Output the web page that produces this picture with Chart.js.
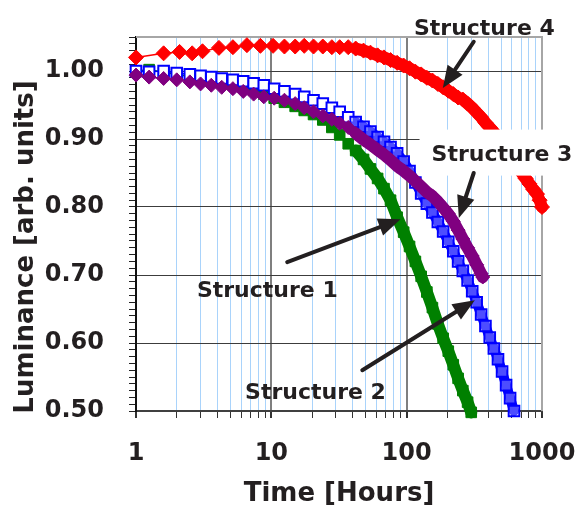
<!DOCTYPE html>
<html>
<head>
<meta charset="utf-8">
<script src="https://cdn.jsdelivr.net/npm/chart.js@4.4.1/dist/chart.umd.min.js"></script>
<style>
  html, body { margin: 0; padding: 0; background: #fff; }
</style>
</head>
<body>
<canvas id="chart" width="578" height="507"></canvas>
<script>
// Structure 1 (green filled squares)
const s1Hours = [1, 1.25, 1.6, 2, 2.5, 3, 3.6, 4.3, 5.2, 6.2, 7.4, 8.8, 10.5, 12.5, 15, 17.5, 20.5, 24, 28, 32,
  37, 42, 48, 54, 61, 68, 76, 85, 95, 105, 116, 128, 141, 155, 170, 186, 203, 221, 240, 260, 282, 300];
const s1Lum = [1.000, 1.002, 0.998, 0.995, 0.992, 0.989, 0.986, 0.983, 0.980, 0.976, 0.972, 0.966, 0.960, 0.954,
  0.948, 0.942, 0.936, 0.928, 0.917, 0.906, 0.893, 0.883, 0.870, 0.856, 0.842, 0.827, 0.810, 0.785, 0.763, 0.742,
  0.720, 0.698, 0.675, 0.652, 0.628, 0.607, 0.588, 0.568, 0.548, 0.530, 0.513, 0.498];

// Structure 2 (blue open squares)
const s2Hours = [1, 1.25, 1.6, 2, 2.5, 3, 3.6, 4.3, 5.2, 6.2, 7.4, 8.8, 10.5, 12.5, 15, 17.5, 20.5, 24, 28, 32,
  37, 42, 48, 54, 61, 68, 76, 85, 95, 105, 116, 128, 141, 155, 170, 186, 203, 221, 240, 260, 282, 305, 329, 355,
  382, 411, 441, 473, 507, 543, 581, 621];
const s2Lum = [1.000, 0.999, 1.000, 0.997, 0.995, 0.993, 0.991, 0.989, 0.987, 0.985, 0.982, 0.979, 0.974, 0.970,
  0.966, 0.962, 0.957, 0.952, 0.946, 0.940, 0.932, 0.925, 0.918, 0.911, 0.903, 0.896, 0.888, 0.879, 0.867, 0.853,
  0.836, 0.820, 0.805, 0.792, 0.778, 0.764, 0.749, 0.735, 0.720, 0.706, 0.692, 0.676, 0.660, 0.642, 0.625, 0.608,
  0.592, 0.576, 0.558, 0.538, 0.519, 0.500];

// Structure 3 (purple diamonds)
const s3Hours = [1, 1.25, 1.6, 2, 2.5, 3, 3.6, 4.3, 5.2, 6.2, 7.4, 8.8, 10.5, 12.5, 15, 17.5, 20.5, 24, 28, 32,
  37, 42, 48, 54, 61, 68, 76, 85, 95, 105, 116, 128, 141, 155, 170, 186, 203, 221, 240, 260, 282, 305, 329, 355, 365];
const s3Lum = [0.994, 0.991, 0.989, 0.987, 0.984, 0.981, 0.979, 0.976, 0.974, 0.970, 0.966, 0.962, 0.960, 0.957,
  0.952, 0.946, 0.940, 0.934, 0.929, 0.923, 0.917, 0.908, 0.899, 0.892, 0.884, 0.877, 0.869, 0.860, 0.853, 0.846,
  0.838, 0.830, 0.822, 0.816, 0.808, 0.799, 0.790, 0.779, 0.766, 0.753, 0.740, 0.728, 0.715, 0.702, 0.697];

// Structure 4 (red diamonds)
const s4Hours = [1, 1.6, 2.1, 2.6, 3.1, 4.1, 5.2, 6.6, 8.3, 10.3, 12.5, 15, 17.5, 20.5, 24, 28, 32, 37, 42, 48,
  54, 61, 68, 76, 85, 95, 105, 116, 128, 141, 155, 170, 186, 203, 221, 240, 260, 282, 305, 329, 355, 382, 411, 441,
  473, 507, 543, 581, 621, 664, 709, 757, 808, 862, 919, 960, 1000];
const s4Lum = [1.020, 1.026, 1.028, 1.026, 1.029, 1.034, 1.035, 1.038, 1.037, 1.037, 1.036, 1.036, 1.037, 1.036,
  1.036, 1.035, 1.035, 1.035, 1.033, 1.030, 1.027, 1.023, 1.020, 1.016, 1.012, 1.008, 1.004, 0.999, 0.995, 0.990,
  0.986, 0.981, 0.976, 0.971, 0.966, 0.961, 0.958, 0.952, 0.946, 0.939, 0.932, 0.924, 0.917, 0.910, 0.902, 0.893,
  0.883, 0.874, 0.866, 0.858, 0.850, 0.842, 0.834, 0.826, 0.819, 0.810, 0.800];

const seriesNames = ['Structure 1', 'Structure 2', 'Structure 3', 'Structure 4'];
const xLabelValues = [1, 10, 100, 1000];
const yLabelValues = [0.5, 0.6, 0.7, 0.8, 0.9, 1.0];

const textColor = '#231f20';
const fontFamily = '"DejaVu Sans", Verdana, sans-serif';

const toPoints = (hours, lum) => hours.map((h, i) => ({ x: h, y: lum[i] }));
const isMajorX = (v) => xLabelValues.includes(v);
const isMajorY = (v) => yLabelValues.some(m => Math.abs(m - v) < 1e-6);
// dense measurements merge into a band at long times
const bandWidth = (w) => (c) => c.p0.parsed.x >= 40 ? w : 1.5;

// label text and arrows, placed in data coordinates [hours, luminance]
const notes = [
  { text: seriesNames[3], at: [375, 1.064], from: [313, 1.043], to: [185, 0.975], box: false },
  { text: seriesNames[2], at: [506, 0.880], from: [313, 0.850], to: [243, 0.784], box: true },
  { text: seriesNames[0], at: [9.34, 0.679], from: [13.1, 0.719], to: [90, 0.782], box: false },
  { text: seriesNames[1], at: [21.2, 0.529], from: [47, 0.560], to: [319, 0.663], box: false },
];

const framePlugin = {
  id: 'frame',
  beforeDatasetsDraw(chart) {
    const { ctx, chartArea: a } = chart;
    ctx.save();
    ctx.strokeStyle = '#a6a6a6';
    ctx.lineWidth = 2;
    ctx.beginPath();
    ctx.moveTo(a.left, a.top);
    ctx.lineTo(a.right, a.top);
    ctx.lineTo(a.right, a.bottom);
    ctx.stroke();
    ctx.restore();
  },
  afterDatasetsDraw(chart) {
    const { ctx, scales: { x, y } } = chart;
    const px = (p) => [x.getPixelForValue(p[0]), y.getPixelForValue(p[1])];
    ctx.save();
    ctx.font = 'bold 22px ' + fontFamily;
    for (const n of notes) {
      const [cx, cy] = px(n.at);
      const w = ctx.measureText(n.text).width;
      if (n.box) {
        ctx.fillStyle = '#ffffff';
        ctx.fillRect(cx - w / 2 - 12, cy - 23, w + 30, 46);
      }
      ctx.fillStyle = textColor;
      ctx.textAlign = 'center';
      ctx.textBaseline = 'alphabetic';
      ctx.fillText(n.text, cx, cy + 8);

      // arrow
      const [x1, y1] = px(n.from);
      const [x2, y2] = px(n.to);
      const ang = Math.atan2(y2 - y1, x2 - x1);
      const headLen = 22, headW = 9;
      const bx = x2 - Math.cos(ang) * headLen, by = y2 - Math.sin(ang) * headLen;
      ctx.strokeStyle = textColor;
      ctx.lineWidth = 4;
      ctx.lineCap = 'round';
      ctx.beginPath();
      ctx.moveTo(x1, y1);
      ctx.lineTo(bx, by);
      ctx.stroke();
      ctx.beginPath();
      ctx.moveTo(x2, y2);
      ctx.lineTo(bx + Math.sin(ang) * headW, by - Math.cos(ang) * headW);
      ctx.lineTo(bx - Math.sin(ang) * headW, by + Math.cos(ang) * headW);
      ctx.closePath();
      ctx.fillStyle = textColor;
      ctx.fill();
    }

    // y axis title
    ctx.translate(26, 247);
    ctx.rotate(-Math.PI / 2);
    ctx.font = 'bold 26px ' + fontFamily;
    ctx.textAlign = 'center';
    ctx.textBaseline = 'middle';
    ctx.fillStyle = textColor;
    ctx.fillText('Luminance [arb. units]', 0, 0);
    ctx.restore();
  }
};

const ctx = document.getElementById('chart').getContext('2d');

const chart = new Chart(ctx, {
  type: 'line',
  data: {
    datasets: [
      {
        label: seriesNames[0], data: toPoints(s1Hours, s1Lum), order: 4,
        borderColor: '#008000', backgroundColor: '#008000', borderWidth: 1.5,
        segment: { borderWidth: bandWidth(12) },
        pointStyle: 'rect', pointRadius: 7.5, pointBorderWidth: 1, clip: false,
      },
      {
        label: seriesNames[1], data: toPoints(s2Hours, s2Lum), order: 3,
        borderColor: '#0000ff', borderWidth: 1.5,
        segment: { borderWidth: bandWidth(10) },
        pointBackgroundColor: (c) => (c.raw && c.raw.x >= 40) ? 'rgba(255,255,255,0.3)' : '#ffffff',
        pointStyle: 'rect', pointRadius: 7.5, pointBorderWidth: 2, pointBorderColor: '#0000ff', clip: false,
      },
      {
        label: seriesNames[2], data: toPoints(s3Hours, s3Lum), order: 2,
        borderColor: '#800080', backgroundColor: '#800080', borderWidth: 1.5,
        segment: { borderWidth: bandWidth(12) },
        pointStyle: 'rectRot', pointRadius: 7, pointBorderWidth: 1, clip: false,
      },
      {
        label: seriesNames[3], data: toPoints(s4Hours, s4Lum), order: 1,
        borderColor: '#ff0000', backgroundColor: '#ff0000', borderWidth: 1.5,
        segment: { borderWidth: bandWidth(12) },
        pointStyle: 'rectRot', pointRadius: 7.5, pointBorderWidth: 1, clip: false,
      },
    ]
  },
  options: {
    responsive: false,
    animation: false,
    devicePixelRatio: 1,
    layout: { padding: { top: 37, right: 36, left: 0, bottom: 0 } },
    elements: { line: { borderJoinStyle: 'round', borderCapStyle: 'round' } },
    plugins: { legend: { display: false }, tooltip: { enabled: false } },
    scales: {
      x: {
        type: 'logarithmic',
        min: 1,
        max: 1000,
        afterFit: (scale) => { scale.height = 96; scale.paddingLeft = 0; scale.paddingRight = 0; },
        afterBuildTicks: (scale) => {
          const t = [];
          for (const d of [1, 10, 100]) for (let k = 1; k <= 9; k++) t.push({ value: k * d });
          t.push({ value: 1000 });
          scale.ticks = t;
        },
        ticks: {
          autoSkip: false,
          maxRotation: 0,
          padding: 21,
          color: textColor,
          font: { family: fontFamily, size: 24, weight: 'bold' },
          callback: (v) => isMajorX(v) ? String(v) : '',
        },
        grid: {
          color: (c) => {
            const v = c.tick && c.tick.value;
            if (v === 1000) return '#a6a6a6';
            return isMajorX(v) ? '#7f7f7f' : '#a9d3fb';
          },
          lineWidth: (c) => (c.tick && isMajorX(c.tick.value)) ? 2 : 1,
          tickColor: '#333333',
          tickLength: 7,
        },
        border: { color: '#404040', width: 2 },
        title: {
          display: true,
          text: 'Time [Hours]',
          color: textColor,
          font: { family: fontFamily, size: 26, weight: 'bold', lineHeight: 1 },
          padding: { top: 0, bottom: 0 },
        },
      },
      y: {
        type: 'linear',
        min: 0.5,
        max: 1.05,
        afterFit: (scale) => { scale.width = 136; scale.paddingTop = 0; scale.paddingBottom = 0; },
        afterBuildTicks: (scale) => {
          const t = [];
          for (let i = 50; i <= 105; i++) t.push({ value: i / 100 });
          scale.ticks = t;
        },
        ticks: {
          autoSkip: false,
          padding: 25,
          color: textColor,
          font: { family: fontFamily, size: 24, weight: 'bold' },
          callback: (v) => isMajorY(v) ? v.toFixed(2) : '',
        },
        grid: {
          color: (c) => (c.tick && isMajorY(c.tick.value)) ? '#3c3c3c' : 'rgba(0,0,0,0)',
          tickColor: '#222222',
          tickLength: 7,
        },
        border: { color: '#111111', width: 2 },
      },
    },
  },
  plugins: [framePlugin],
});
</script>
</body>
</html>
